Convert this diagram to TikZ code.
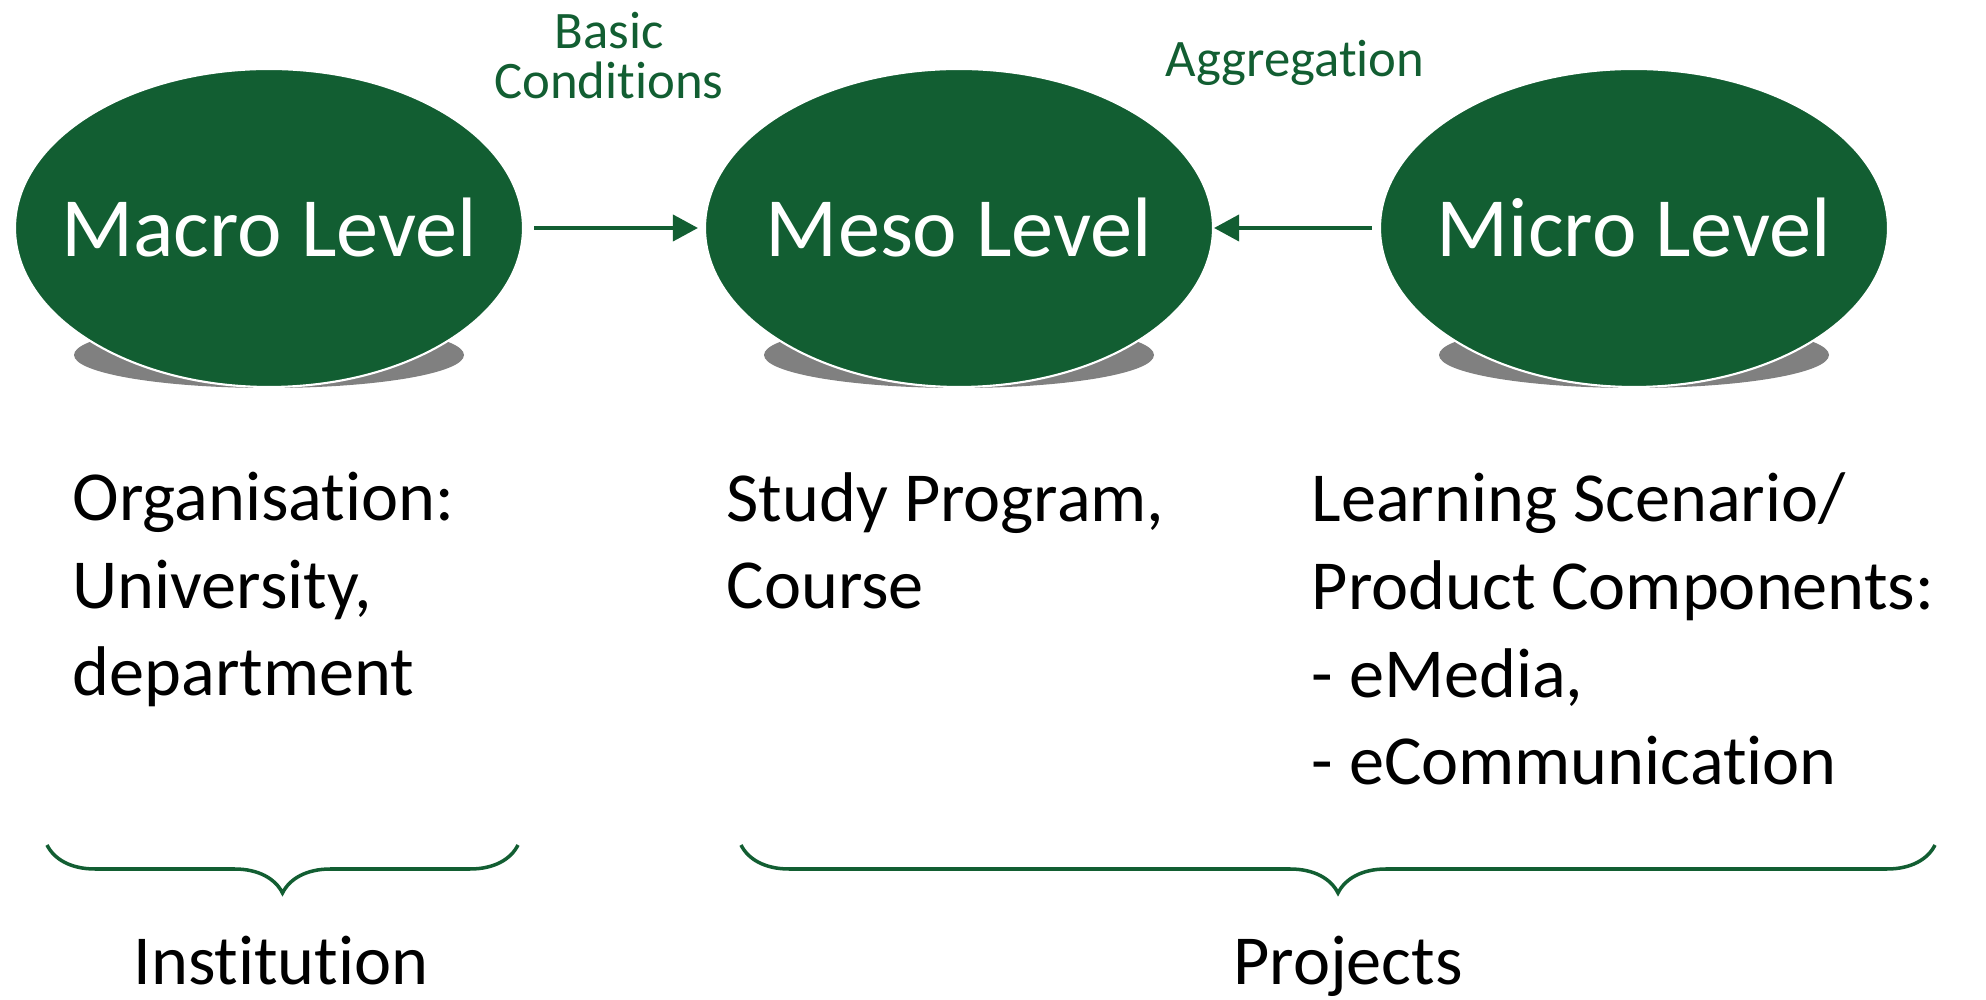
\documentclass[tikz,border=0pt]{standalone}
\usepackage{fontspec}
\setmainfont{Carlito}[Ligatures=NoCommon]
\usetikzlibrary{arrows.meta,decorations.pathreplacing,shapes.geometric}

\definecolor{lvlgreen}{RGB}{18,94,50}
\definecolor{shadowgray}{RGB}{128,128,128}

\tikzset{
  lvlnode/.style={ellipse, fill=lvlgreen, draw=white, line width=0.6pt,
    minimum width=5.08cm, minimum height=3.18cm, inner xsep=-0.4cm, inner ysep=0pt,
    text=white, font=\fontsize{24}{28}\selectfont},
  lvlshadow/.style={ellipse, fill=shadowgray, minimum width=3.9cm,
    minimum height=0.66cm, inner sep=0pt},
  flow/.style={-{Triangle[length=0.25cm,width=0.26cm]}, draw=lvlgreen, line width=1.1pt},
  flowlabel/.style={text=lvlgreen, align=center, inner sep=0pt,
    font=\fontsize{15}{14.2}\selectfont},
  desc/.style={align=left, anchor=base west, inner sep=0pt,
    font=\fontsize{20}{25}\selectfont},
  groupbrace/.style={decorate, decoration={brace, mirror, amplitude=0.48cm},
    draw=lvlgreen, line width=1pt},
  grouplabel/.style={anchor=base, inner sep=0pt, font=\fontsize{20}{24}\selectfont}
}

\begin{document}
\begin{tikzpicture}
\useasboundingbox (0,0) rectangle (19.86,-10);

% shadows under the three levels
\node[lvlshadow] (macroshadow) at (2.69,-3.55) {};
\node[lvlshadow] (mesoshadow) at (9.59,-3.55) {};
\node[lvlshadow] (microshadow) at (16.34,-3.55) {};

\node[lvlnode] (macro) at (2.69,-2.28) {Macro Level};
\node[lvlnode] (meso) at (9.59,-2.28) {Meso Level};
\node[lvlnode] (micro) at (16.34,-2.28) {Micro Level};

\draw[flow, shorten <=0.1cm, shorten >=0.06cm] (macro) -- (meso);
\draw[flow, shorten <=0.07cm] (micro) -- (meso);

\node[flowlabel] (basic) at (6.09,-0.56) {Basic\\Conditions};
\node[flowlabel, anchor=base] (aggr) at (12.95,-0.77) {Aggregation};

% what each level stands for (base = last line)
\node[desc] (orga) at (0.72,-6.96) {Organisation:\\University,\\department};
\node[desc] (study) at (7.26,-6.09) {Study Program,\\Course};
\node[desc] (scen) at (13.11,-7.85) {Learning Scenario/\\Product Components:\\- eMedia,\\- eCommunication};

% braces
\coordinate (instl) at (0.47,-8.45);
\coordinate (instr) at (5.18,-8.45);
\coordinate (projl) at (7.41,-8.45);
\coordinate (projr) at (19.35,-8.45);
\draw[groupbrace] (instl) -- (instr);
\draw[groupbrace] (projl) -- (projr);

\node[grouplabel] (inst) at (2.81,-9.85) {Institution};
\node[grouplabel] (proj) at (13.48,-9.85) {Projects};
\end{tikzpicture}
\end{document}
